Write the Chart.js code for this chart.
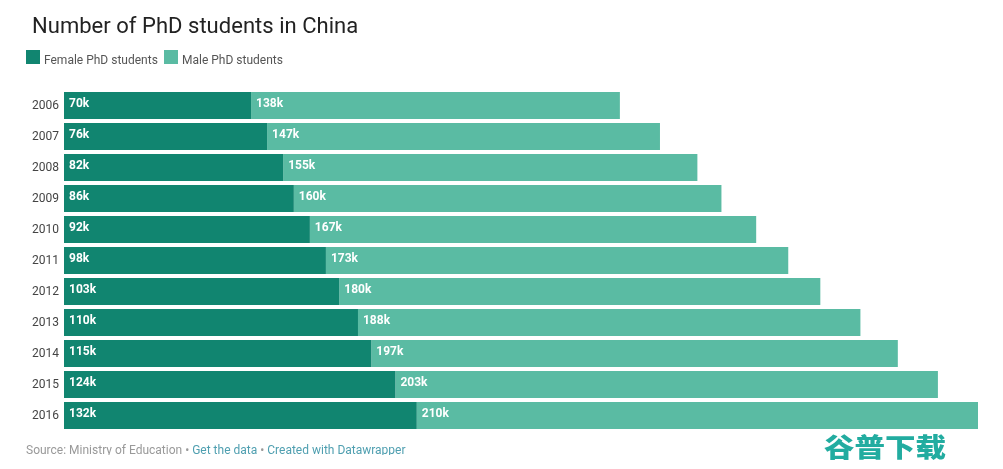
<!DOCTYPE html>
<html>
<head>
<meta charset="utf-8">
<script src="https://cdn.jsdelivr.net/npm/chart.js@4"></script>
<style>
  html, body { margin: 0; padding: 0; background: #fff; }
  body { width: 1003px; height: 469px; position: relative; overflow: hidden; font-family: Roboto, sans-serif; }
  #chart { position: absolute; left: 0; top: 0; }
  #title { position: absolute; left: 32px; top: 12px; font-size: 22px; line-height: 27px; color: #222; letter-spacing: 0.03px; }
  #legend { position: absolute; left: 26px; top: 50px; font-size: 12px; line-height: 14px; color: #555; }
  #legend span { position: absolute; top: 3px; white-space: nowrap; }
  #legend i { position: absolute; top: 0; width: 14px; height: 14px; }
  #footer { position: absolute; left: 26px; top: 442px; height: 13px; overflow: hidden; font-size: 12px; line-height: 16px; color: #999; white-space: nowrap; }
  #footer a { color: #4f9fb0; text-decoration: none; }
  #mark { position: absolute; left: 824px; top: 431px; font-family: "Noto Sans CJK SC"; font-weight: 900; font-size: 30.5px; line-height: 36px; color: #22aca0; white-space: nowrap; transform: scaleY(0.85); transform-origin: left top; }
</style>
</head>
<body>
<canvas id="chart" width="1003" height="469"></canvas>
<div id="title">Number of PhD students in China</div>
<div id="legend"></div>
<div id="footer">Source: Ministry of Education • <a>Get the data</a> • <a>Created with Datawrapper</a></div>
<div id="mark">谷普下载</div>
<script>
const years = ['2006', '2007', '2008', '2009', '2010', '2011', '2012', '2013', '2014', '2015', '2016'];
const female = [70, 76, 82, 86, 92, 98, 103, 110, 115, 124, 132];
const male = [138, 147, 155, 160, 167, 173, 180, 188, 197, 203, 210];

const femaleColor = '#118570';
const maleColor = '#5abba3';

// values printed at the left end of each bar segment
const barLabels = {
    id: 'barLabels',
    afterDatasetsDraw(chart) {
        const ctx = chart.ctx;
        ctx.save();
        ctx.font = 'bold 12px Roboto';
        ctx.fillStyle = '#fff';
        ctx.textBaseline = 'middle';
        chart.data.datasets.forEach((ds, i) => {
            chart.getDatasetMeta(i).data.forEach((bar, j) => {
                ctx.fillText(ds.data[j] + 'k', bar.base + 5, bar.y - 2);
            });
        });
        ctx.restore();
    }
};

const chart = new Chart(document.getElementById('chart'), {
    type: 'bar',
    data: {
        labels: years,
        datasets: [
            { label: 'Female PhD students', data: female, backgroundColor: femaleColor },
            { label: 'Male PhD students', data: male, backgroundColor: maleColor }
        ]
    },
    options: {
        indexAxis: 'y',
        responsive: false,
        animation: false,
        layout: { padding: { left: 0, right: 25, top: 90, bottom: 38 } },
        plugins: { legend: { display: false }, tooltip: { enabled: false } },
        datasets: { bar: { barPercentage: 27 / 31, categoryPercentage: 1 } },
        scales: {
            x: { stacked: true, display: false, min: 0, max: 342 },
            y: {
                stacked: true,
                grid: { display: false, tickLength: 0 },
                border: { display: false },
                ticks: { color: '#444', font: { family: 'Roboto', size: 12 }, padding: 5 },
                afterFit(axis) { axis.width = 64; }
            }
        }
    },
    plugins: [barLabels]
});

// legend is laid out by hand to sit under the title
const legendBox = document.getElementById('legend');
const legendX = [0, 138];
chart.data.datasets.forEach((ds, i) => {
    const swatch = document.createElement('i');
    swatch.style.left = legendX[i] + 'px';
    swatch.style.background = ds.backgroundColor;
    const text = document.createElement('span');
    text.style.left = (legendX[i] + 18) + 'px';
    text.textContent = ds.label;
    legendBox.append(swatch, text);
});
</script>
</body>
</html>
